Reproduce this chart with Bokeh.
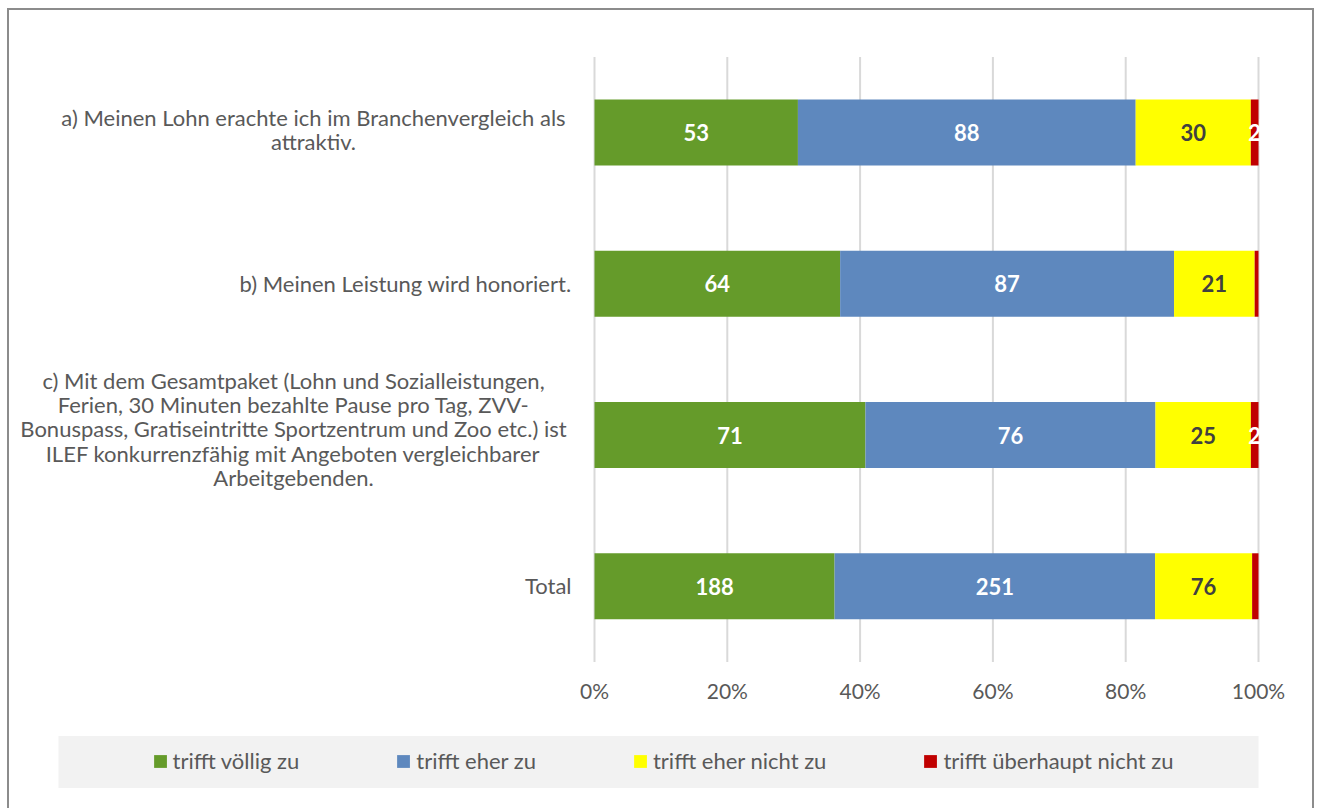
from bokeh.plotting import figure
from bokeh.models import Range1d, ColumnDataSource, Legend, LegendItem
from bokeh.core.properties import value
from bokeh.embed import file_html
from bokeh.resources import INLINE

# ---------------- data ----------------
categories = ["a", "b", "c", "Total"]
category_lines = [
    ["a) Meinen Lohn erachte ich im Branchenvergleich als", "attraktiv."],
    ["b) Meinen Leistung wird honoriert."],
    ["c) Mit dem Gesamtpaket (Lohn und Sozialleistungen,",
     "Ferien, 30 Minuten bezahlte Pause pro Tag, ZVV-",
     "Bonuspass, Gratiseintritte Sportzentrum und Zoo etc.) ist",
     "ILEF konkurrenzfähig mit Angeboten vergleichbarer",
     "Arbeitgebenden."],
    ["Total"],
]
series_names = ["trifft völlig zu", "trifft eher zu", "trifft eher nicht zu",
                "trifft überhaupt nicht zu"]
voellig = [53, 64, 71, 188]
eher = [88, 87, 76, 251]
eher_nicht = [30, 21, 25, 76]
ueberhaupt_nicht = [2, 1, 2, 5]
red_labels = ["2", "", "2", ""]
tick_values = [0, 0.2, 0.4, 0.6, 0.8, 1.0]
tick_labels = ["0%", "20%", "40%", "60%", "80%", "100%"]

# ---------------- styles / layout ----------------
colors = ["#659B2A", "#5E88BE", "#FFFF00", "#C00000"]
label_colors = ["#FFFFFF", "#FFFFFF", "#404040", "#FFFFFF"]
FONT = "Lato"
GREY = "#595959"
W, H = 1307, 800
PLOT_L, PLOT_R = 585, 1249            # px of 0% and 100%
ROW_PX = 151.25                        # px per category
TOP_ROW_PX = 122                       # px of the first category centre
px_per_x = PLOT_R - PLOT_L
x0 = -PLOT_L / px_per_x
x1 = 1 + (W - PLOT_R) / px_per_x

n = len(categories)
ypos = [n - 1 - i for i in range(n)]
y_top = (n - 1) + TOP_ROW_PX / ROW_PX
y_bot = (n - 1) - (H - TOP_ROW_PX) / ROW_PX

p = figure(width=W, height=H, x_range=Range1d(x0, x1), y_range=Range1d(y_bot, y_top),
           output_backend="svg", toolbar_location=None, min_border=0,
           min_border_left=0, min_border_right=0, min_border_top=0, min_border_bottom=0)
p.outline_line_color = None
p.background_fill_color = "white"
p.border_fill_color = "white"
p.axis.visible = False
p.grid.visible = False
p.styles = {"border-left": "2px solid #8C8C8C", "border-top": "2px solid #8C8C8C",
            "border-right": "2px solid #8C8C8C", "margin-left": "7px",
            "margin-top": "8px"}

# vertical gridlines over the plot area
p.segment(x0=tick_values, x1=tick_values, y0=-0.5, y1=n - 0.5,
          line_color="#D9D9D9", line_width=2)

# tick labels
p.text(x=tick_values, y=[-0.5] * len(tick_values), text=tick_labels, y_offset=29,
       text_align="center", text_baseline="middle", text_color=GREY,
       text_font=value(FONT), text_font_size="21px")

all_series = [voellig, eher, eher_nicht, ueberhaupt_nicht]
totals = [sum(s[i] for s in all_series) for i in range(n)]

bar_renderers = []
left = [0.0] * n
for k, s in enumerate(all_series):
    share = [s[i] / totals[i] for i in range(n)]
    right = [left[i] + share[i] for i in range(n)]
    mid = [(left[i] + right[i]) / 2 for i in range(n)]
    labels = red_labels if k == 3 else [str(v) for v in s]
    src = ColumnDataSource(dict(y=ypos, left=list(left), right=right, mid=mid, lab=labels))
    r = p.hbar(y="y", left="left", right="right", height=0.436, source=src,
               fill_color=colors[k], line_color=None)
    bar_renderers.append(r)
    p.text(x="mid", y="y", text="lab", source=src, text_align="center",
           text_baseline="middle", text_color=label_colors[k],
           text_font=value(FONT), text_font_size="22px", text_font_style="bold")
    left = right

# the plot area clips the narrow labels at 100%
clip_rows = [ypos[i] for i in range(n) if red_labels[i]]
p.quad(left=1.0016, right=1.04, bottom=[y - 0.09 for y in clip_rows],
       top=[y + 0.09 for y in clip_rows], fill_color="white", line_color=None)

# category labels
lx = [-0.4232, -0.0346, -0.4533, -0.0346]
lalign = ["center", "right", "center", "right"]
loff = [[-15, 9], [0], [-55, -31, -7, 18, 42], [-1]]
cx, cy, ct, co, ca = [], [], [], [], []
for i in range(n):
    for line, off in zip(category_lines[i], loff[i]):
        cx.append(lx[i]); cy.append(ypos[i]); ct.append(line); co.append(off)
        ca.append(lalign[i])
p.text(x="x", y="y", text="t", y_offset="o", text_align="a",
       source=ColumnDataSource(dict(x=cx, y=cy, t=ct, o=co, a=ca)),
       text_baseline="middle", text_color=GREY, text_font=value(FONT),
       text_font_size="22px")

# legend band
p.quad(left=(49 - PLOT_L) / px_per_x, right=1.0, top=-0.5 - 74 / ROW_PX,
       bottom=-0.5 - 126 / ROW_PX, fill_color="#F2F2F2", line_color=None,
       level="underlay")

items = [LegendItem(label=nm, renderers=[r]) for nm, r in zip(series_names, bar_renderers)]
legend = Legend(items=items, orientation="horizontal", location="bottom_center",
                background_fill_alpha=0, border_line_alpha=0,
                glyph_width=16, glyph_height=16, label_standoff=5, spacing=96,
                padding=0, margin=36, label_text_font=FONT,
                label_text_font_size="22px", label_text_color=GREY)
p.add_layout(legend, "center")

open("out.html", "w").write(file_html(p, INLINE))
